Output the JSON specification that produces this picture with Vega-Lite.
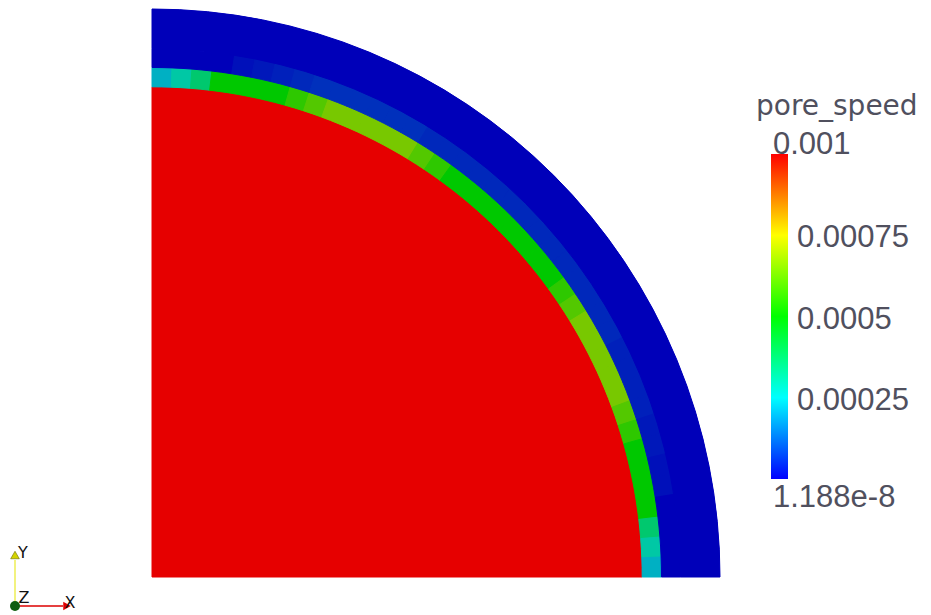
{
  "$schema": "https://vega.github.io/schema/vega-lite/v6.json",
  "width": 568,
  "height": 567,
  "autosize": "none",
  "padding": {"left": 152, "top": 10, "right": 211, "bottom": 38},
  "background": "white",
  "config": {"view": {"stroke": null}},
  "datasets": {
    "mesh": [
      {"zone": "core", "t0": 0, "t1": 90, "r0": 0, "r1": 0.863, "v": 0.001},
      {"zone": "ring", "t0": 0, "t1": 2.25, "r0": 0.863, "r1": 0.897, "v": 0.00022},
      {"zone": "ring", "t0": 2.25, "t1": 4.5, "r0": 0.863, "r1": 0.897, "v": 0.00029},
      {"zone": "ring", "t0": 4.5, "t1": 6.75, "r0": 0.863, "r1": 0.897, "v": 0.00036},
      {"zone": "ring", "t0": 6.75, "t1": 9, "r0": 0.863, "r1": 0.897, "v": 0.0005},
      {"zone": "ring", "t0": 9, "t1": 11.25, "r0": 0.863, "r1": 0.897, "v": 0.0005},
      {"zone": "ring", "t0": 11.25, "t1": 13.5, "r0": 0.863, "r1": 0.897, "v": 0.0005},
      {"zone": "ring", "t0": 13.5, "t1": 15.75, "r0": 0.863, "r1": 0.897, "v": 0.0005},
      {"zone": "ring", "t0": 15.75, "t1": 18, "r0": 0.863, "r1": 0.897, "v": 0.00055},
      {"zone": "ring", "t0": 18, "t1": 20.25, "r0": 0.863, "r1": 0.897, "v": 0.00059},
      {"zone": "ring", "t0": 20.25, "t1": 22.5, "r0": 0.863, "r1": 0.897, "v": 0.00063},
      {"zone": "ring", "t0": 22.5, "t1": 24.75, "r0": 0.863, "r1": 0.897, "v": 0.00063},
      {"zone": "ring", "t0": 24.75, "t1": 27, "r0": 0.863, "r1": 0.897, "v": 0.00063},
      {"zone": "ring", "t0": 27, "t1": 29.25, "r0": 0.863, "r1": 0.897, "v": 0.00063},
      {"zone": "ring", "t0": 29.25, "t1": 31.5, "r0": 0.863, "r1": 0.897, "v": 0.00063},
      {"zone": "ring", "t0": 31.5, "t1": 33.75, "r0": 0.863, "r1": 0.897, "v": 0.00059},
      {"zone": "ring", "t0": 33.75, "t1": 36, "r0": 0.863, "r1": 0.897, "v": 0.00055},
      {"zone": "ring", "t0": 36, "t1": 38.25, "r0": 0.863, "r1": 0.897, "v": 0.0005},
      {"zone": "ring", "t0": 38.25, "t1": 40.5, "r0": 0.863, "r1": 0.897, "v": 0.0005},
      {"zone": "ring", "t0": 40.5, "t1": 42.75, "r0": 0.863, "r1": 0.897, "v": 0.0005},
      {"zone": "ring", "t0": 42.75, "t1": 45, "r0": 0.863, "r1": 0.897, "v": 0.0005},
      {"zone": "ring", "t0": 45, "t1": 47.25, "r0": 0.863, "r1": 0.897, "v": 0.0005},
      {"zone": "ring", "t0": 47.25, "t1": 49.5, "r0": 0.863, "r1": 0.897, "v": 0.0005},
      {"zone": "ring", "t0": 49.5, "t1": 51.75, "r0": 0.863, "r1": 0.897, "v": 0.0005},
      {"zone": "ring", "t0": 51.75, "t1": 54, "r0": 0.863, "r1": 0.897, "v": 0.0005},
      {"zone": "ring", "t0": 54, "t1": 56.25, "r0": 0.863, "r1": 0.897, "v": 0.00055},
      {"zone": "ring", "t0": 56.25, "t1": 58.5, "r0": 0.863, "r1": 0.897, "v": 0.00059},
      {"zone": "ring", "t0": 58.5, "t1": 60.75, "r0": 0.863, "r1": 0.897, "v": 0.00063},
      {"zone": "ring", "t0": 60.75, "t1": 63, "r0": 0.863, "r1": 0.897, "v": 0.00063},
      {"zone": "ring", "t0": 63, "t1": 65.25, "r0": 0.863, "r1": 0.897, "v": 0.00063},
      {"zone": "ring", "t0": 65.25, "t1": 67.5, "r0": 0.863, "r1": 0.897, "v": 0.00063},
      {"zone": "ring", "t0": 67.5, "t1": 69.75, "r0": 0.863, "r1": 0.897, "v": 0.00063},
      {"zone": "ring", "t0": 69.75, "t1": 72, "r0": 0.863, "r1": 0.897, "v": 0.00059},
      {"zone": "ring", "t0": 72, "t1": 74.25, "r0": 0.863, "r1": 0.897, "v": 0.00055},
      {"zone": "ring", "t0": 74.25, "t1": 76.5, "r0": 0.863, "r1": 0.897, "v": 0.0005},
      {"zone": "ring", "t0": 76.5, "t1": 78.75, "r0": 0.863, "r1": 0.897, "v": 0.0005},
      {"zone": "ring", "t0": 78.75, "t1": 81, "r0": 0.863, "r1": 0.897, "v": 0.0005},
      {"zone": "ring", "t0": 81, "t1": 83.25, "r0": 0.863, "r1": 0.897, "v": 0.0005},
      {"zone": "ring", "t0": 83.25, "t1": 85.5, "r0": 0.863, "r1": 0.897, "v": 0.00036},
      {"zone": "ring", "t0": 85.5, "t1": 87.75, "r0": 0.863, "r1": 0.897, "v": 0.00029},
      {"zone": "ring", "t0": 87.75, "t1": 90, "r0": 0.863, "r1": 0.897, "v": 0.00022},
      {"zone": "band", "t0": 0, "t1": 2.25, "r0": 0.897, "r1": 0.93, "v": 1.188e-8},
      {"zone": "band", "t0": 2.25, "t1": 4.5, "r0": 0.897, "r1": 0.93, "v": 1.188e-8},
      {"zone": "band", "t0": 4.5, "t1": 6.75, "r0": 0.897, "r1": 0.93, "v": 1.188e-8},
      {"zone": "band", "t0": 6.75, "t1": 9, "r0": 0.897, "r1": 0.93, "v": 1.188e-8},
      {"zone": "band", "t0": 9, "t1": 11.25, "r0": 0.897, "r1": 0.93, "v": 0.00002},
      {"zone": "band", "t0": 11.25, "t1": 13.5, "r0": 0.897, "r1": 0.93, "v": 0.00003},
      {"zone": "band", "t0": 13.5, "t1": 15.75, "r0": 0.897, "r1": 0.93, "v": 0.00004},
      {"zone": "band", "t0": 15.75, "t1": 18, "r0": 0.897, "r1": 0.93, "v": 0.00005},
      {"zone": "band", "t0": 18, "t1": 20.25, "r0": 0.897, "r1": 0.93, "v": 0.00006},
      {"zone": "band", "t0": 20.25, "t1": 22.5, "r0": 0.897, "r1": 0.93, "v": 0.00006},
      {"zone": "band", "t0": 22.5, "t1": 24.75, "r0": 0.897, "r1": 0.93, "v": 0.00006},
      {"zone": "band", "t0": 24.75, "t1": 27, "r0": 0.897, "r1": 0.93, "v": 0.00006},
      {"zone": "band", "t0": 27, "t1": 29.25, "r0": 0.897, "r1": 0.93, "v": 0.00006},
      {"zone": "band", "t0": 29.25, "t1": 31.5, "r0": 0.897, "r1": 0.93, "v": 0.00006},
      {"zone": "band", "t0": 31.5, "t1": 33.75, "r0": 0.897, "r1": 0.93, "v": 0.00005},
      {"zone": "band", "t0": 33.75, "t1": 36, "r0": 0.897, "r1": 0.93, "v": 0.00005},
      {"zone": "band", "t0": 36, "t1": 38.25, "r0": 0.897, "r1": 0.93, "v": 0.00005},
      {"zone": "band", "t0": 38.25, "t1": 40.5, "r0": 0.897, "r1": 0.93, "v": 0.00005},
      {"zone": "band", "t0": 40.5, "t1": 42.75, "r0": 0.897, "r1": 0.93, "v": 0.00005},
      {"zone": "band", "t0": 42.75, "t1": 45, "r0": 0.897, "r1": 0.93, "v": 0.00005},
      {"zone": "band", "t0": 45, "t1": 47.25, "r0": 0.897, "r1": 0.93, "v": 0.00005},
      {"zone": "band", "t0": 47.25, "t1": 49.5, "r0": 0.897, "r1": 0.93, "v": 0.00005},
      {"zone": "band", "t0": 49.5, "t1": 51.75, "r0": 0.897, "r1": 0.93, "v": 0.00005},
      {"zone": "band", "t0": 51.75, "t1": 54, "r0": 0.897, "r1": 0.93, "v": 0.00005},
      {"zone": "band", "t0": 54, "t1": 56.25, "r0": 0.897, "r1": 0.93, "v": 0.00005},
      {"zone": "band", "t0": 56.25, "t1": 58.5, "r0": 0.897, "r1": 0.93, "v": 0.00005},
      {"zone": "band", "t0": 58.5, "t1": 60.75, "r0": 0.897, "r1": 0.93, "v": 0.00005},
      {"zone": "band", "t0": 60.75, "t1": 63, "r0": 0.897, "r1": 0.93, "v": 0.00005},
      {"zone": "band", "t0": 63, "t1": 65.25, "r0": 0.897, "r1": 0.93, "v": 0.00004},
      {"zone": "band", "t0": 65.25, "t1": 67.5, "r0": 0.897, "r1": 0.93, "v": 0.00004},
      {"zone": "band", "t0": 67.5, "t1": 69.75, "r0": 0.897, "r1": 0.93, "v": 0.00004},
      {"zone": "band", "t0": 69.75, "t1": 72, "r0": 0.897, "r1": 0.93, "v": 0.00004},
      {"zone": "band", "t0": 72, "t1": 74.25, "r0": 0.897, "r1": 0.93, "v": 0.00003},
      {"zone": "band", "t0": 74.25, "t1": 76.5, "r0": 0.897, "r1": 0.93, "v": 0.00003},
      {"zone": "band", "t0": 76.5, "t1": 78.75, "r0": 0.897, "r1": 0.93, "v": 0.00002},
      {"zone": "band", "t0": 78.75, "t1": 81, "r0": 0.897, "r1": 0.93, "v": 0.00002},
      {"zone": "band", "t0": 81, "t1": 83.25, "r0": 0.897, "r1": 0.93, "v": 1.188e-8},
      {"zone": "band", "t0": 83.25, "t1": 85.5, "r0": 0.897, "r1": 0.93, "v": 1.188e-8},
      {"zone": "band", "t0": 85.5, "t1": 87.75, "r0": 0.897, "r1": 0.93, "v": 1.188e-8},
      {"zone": "band", "t0": 87.75, "t1": 90, "r0": 0.897, "r1": 0.93, "v": 1.188e-8},
      {"zone": "outer", "t0": 0, "t1": 90, "r0": 0.93, "r1": 1.0, "v": 1.188e-8}
    ]
  },
  "data": {"name": "mesh"},
  "layer": [
    {
      "mark": {"type": "arc"},
      "encoding": {
        "x": {"datum": 0, "type": "quantitative", "scale": {"domain": [0, 1], "nice": false, "zero": false}, "axis": null},
        "y": {"datum": 0, "type": "quantitative", "scale": {"domain": [0, 1], "nice": false, "zero": false}, "axis": null},
        "theta": {"field": "t0", "type": "quantitative", "stack": null, "scale": {"domain": [0, 360]}},
        "theta2": {"field": "t1"},
        "radius": {"field": "r1", "type": "quantitative", "stack": null, "scale": {"type": "linear", "domain": [0, 1], "range": [0, 568], "zero": true}},
        "radius2": {"field": "r0"},
        "color": {
          "field": "v",
          "type": "quantitative",
          "scale": {
            "type": "linear",
            "domain": [1.188e-8, 0.00025, 0.0005, 0.00075, 0.001],
            "range": ["#0000ff", "#00ffff", "#00ff00", "#ffff00", "#ff0000"],
            "interpolate": "rgb"
          },
          "legend": {
            "orient": "none",
            "legendX": 604,
            "legendY": 83,
            "direction": "vertical",
            "padding": 0,
            "gradientLength": 325,
            "gradientThickness": 17,
            "gradientStrokeWidth": 0,
            "title": "pore_speed",
            "titleFont": "DejaVu Sans",
            "titleFontSize": 28,
            "titleFontWeight": "normal",
            "titleColor": "#50505e",
            "titlePadding": 33,
            "labelFont": "Liberation Sans",
            "labelFontSize": 31,
            "labelColor": "#50505e",
            "labelOffset": 9,
            "labelOverlap": false,
            "labelLimit": 300,
            "values": [1.188e-8, 0.00025, 0.0005, 0.00075, 0.001],
            "labelExpr": "'' + datum.value",
            "encode": {
              "labels": {
                "update": {
                  "baseline": {"signal": "datum.value > 0.0009 ? 'alphabetic' : datum.value < 0.000001 ? 'top' : 'middle'"},
                  "dx": {"signal": "(datum.value > 0.0009 || datum.value < 0.000001) ? -24 : 0"},
                  "dy": {"signal": "datum.value < 0.000001 ? 4 : datum.value > 0.0009 ? 0 : 3"}
                }
              },
              "title": {"update": {"dx": {"value": -15}}}
            }
          }
        }
      }
    },
    {
      "mark": {"type": "arc", "strokeWidth": 1},
      "encoding": {
        "x": {"datum": 0, "type": "quantitative", "scale": {"domain": [0, 1], "nice": false, "zero": false}, "axis": null},
        "y": {"datum": 0, "type": "quantitative", "scale": {"domain": [0, 1], "nice": false, "zero": false}, "axis": null},
        "theta": {"field": "t0", "type": "quantitative", "stack": null, "scale": {"domain": [0, 360]}},
        "theta2": {"field": "t1"},
        "radius": {"field": "r1", "type": "quantitative", "stack": null, "scale": {"type": "linear", "domain": [0, 1], "range": [0, 568], "zero": true}},
        "radius2": {"field": "r0"},
        "color": {
          "field": "v",
          "type": "quantitative",
          "scale": {
            "type": "linear",
            "domain": [1.188e-8, 0.00025, 0.0005, 0.00075, 0.001],
            "range": ["#0000b9", "#00c8c4", "#00c800", "#e6c800", "#e60000"],
            "interpolate": "rgb"
          },
          "legend": null
        },
        "stroke": {
          "field": "v",
          "type": "quantitative",
          "scale": {
            "type": "linear",
            "domain": [1.188e-8, 0.00025, 0.0005, 0.00075, 0.001],
            "range": ["#0000b9", "#00c8c4", "#00c800", "#e6c800", "#e60000"],
            "interpolate": "rgb"
          },
          "legend": null
        }
      }
    },
    {
      "data": {"values": [{"part": "Y axis"}]},
      "mark": {"type": "rule", "color": "#eeee55", "strokeWidth": 1.5},
      "encoding": {
        "x": {"datum": -0.2412, "type": "quantitative", "scale": {"domain": [0, 1], "nice": false, "zero": false}, "axis": null},
        "y": {"datum": -0.0511, "type": "quantitative", "scale": {"domain": [0, 1], "nice": false, "zero": false}, "axis": null},
        "y2": {"datum": 0.03}
      }
    },
    {
      "data": {"values": [{"part": "X axis"}]},
      "mark": {"type": "rule", "color": "#dd0000", "strokeWidth": 1.5},
      "encoding": {
        "x": {"datum": -0.2412, "type": "quantitative", "scale": {"domain": [0, 1], "nice": false, "zero": false}, "axis": null},
        "x2": {"datum": -0.1567},
        "y": {"datum": -0.0511, "type": "quantitative", "scale": {"domain": [0, 1], "nice": false, "zero": false}, "axis": null}
      }
    },
    {
      "data": {"values": [{"part": "Y cone"}]},
      "mark": {"type": "point", "shape": "triangle-up", "filled": true, "color": "#d4d400", "stroke": "#6b6b00", "strokeWidth": 0.6, "size": 75, "opacity": 1},
      "encoding": {
        "x": {"datum": -0.2412, "type": "quantitative", "scale": {"domain": [0, 1], "nice": false, "zero": false}, "axis": null},
        "y": {"datum": 0.0388, "type": "quantitative", "scale": {"domain": [0, 1], "nice": false, "zero": false}, "axis": null}
      }
    },
    {
      "data": {"values": [{"part": "X cone"}]},
      "mark": {"type": "point", "shape": "triangle-right", "filled": true, "color": "#e00000", "size": 75, "opacity": 1},
      "encoding": {
        "x": {"datum": -0.1496, "type": "quantitative", "scale": {"domain": [0, 1], "nice": false, "zero": false}, "axis": null},
        "y": {"datum": -0.0511, "type": "quantitative", "scale": {"domain": [0, 1], "nice": false, "zero": false}, "axis": null}
      }
    },
    {
      "data": {"values": [{"part": "Z sphere"}]},
      "mark": {"type": "point", "shape": "circle", "filled": true, "color": "#105e10", "size": 100, "opacity": 1},
      "encoding": {
        "x": {"datum": -0.2412, "type": "quantitative", "scale": {"domain": [0, 1], "nice": false, "zero": false}, "axis": null},
        "y": {"datum": -0.0511, "type": "quantitative", "scale": {"domain": [0, 1], "nice": false, "zero": false}, "axis": null}
      }
    },
    {
      "data": {"values": [{"label": "Y", "lx": -0.2271, "ly": 0.0423}, {"label": "Z", "lx": -0.2254, "ly": -0.0362}, {"label": "X", "lx": -0.1444, "ly": -0.0459}]},
      "mark": {"type": "text", "font": "DejaVu Sans", "fontSize": 16, "color": "#111111", "align": "center", "baseline": "middle"},
      "encoding": {
        "x": {"field": "lx", "type": "quantitative", "scale": {"domain": [0, 1], "nice": false, "zero": false}, "axis": null},
        "y": {"field": "ly", "type": "quantitative", "scale": {"domain": [0, 1], "nice": false, "zero": false}, "axis": null},
        "text": {"field": "label"}
      }
    }
  ],
  "resolve": {"scale": {"color": "independent", "stroke": "independent"}}
}
